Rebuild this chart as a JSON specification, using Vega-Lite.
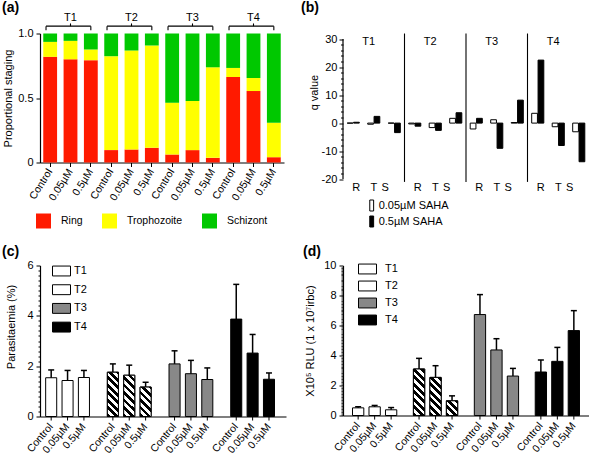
{
"$schema": "https://vega.github.io/schema/vega-lite/v6.json",
"padding": {"left": 2, "top": 0.5, "right": 0, "bottom": 0},
"config": {
 "font": "Liberation Sans",
 "view": {"stroke": null},
 "axis": {"domainColor": "#000", "tickColor": "#000", "labelColor": "#000", "titleColor": "#000", "labelFontSize": 11, "titleFontSize": 11, "titleFontWeight": "normal", "grid": false, "labelOverlap": false, "domainWidth": 1.2, "tickWidth": 1},
 "legend": {"labelColor": "#000", "labelFontSize": 11, "padding": 0},
 "title": {"fontSize": 14, "fontWeight": "bold", "color": "#000", "anchor": "start", "frame": "group"}
},
"bounds": "flush",
"columns": 2,
"spacing": {"row": 86, "column": 57},
"resolve": {"scale": {"fill": "independent", "color": "independent", "xOffset": "independent"}, "legend": {"fill": "independent", "color": "independent"}},
"concat": [
  {
   "width": 244, "height": 129,
   "title": {"text": "(a)", "dx": -38, "offset": -3.5},
   "layer": [
    {
     "data": {"values": [
      {"key": "T1|Control", "stage": "Ring", "frac": 0.819, "ord": 1},
      {"key": "T1|Control", "stage": "Trophozoite", "frac": 0.116, "ord": 2},
      {"key": "T1|Control", "stage": "Schizont", "frac": 0.065, "ord": 3},
      {"key": "T1|0.05µM", "stage": "Ring", "frac": 0.8, "ord": 1},
      {"key": "T1|0.05µM", "stage": "Trophozoite", "frac": 0.143, "ord": 2},
      {"key": "T1|0.05µM", "stage": "Schizont", "frac": 0.057, "ord": 3},
      {"key": "T1|0.5µM", "stage": "Ring", "frac": 0.793, "ord": 1},
      {"key": "T1|0.5µM", "stage": "Trophozoite", "frac": 0.083, "ord": 2},
      {"key": "T1|0.5µM", "stage": "Schizont", "frac": 0.124, "ord": 3},
      {"key": "T2|Control", "stage": "Ring", "frac": 0.096, "ord": 1},
      {"key": "T2|Control", "stage": "Trophozoite", "frac": 0.728, "ord": 2},
      {"key": "T2|Control", "stage": "Schizont", "frac": 0.176, "ord": 3},
      {"key": "T2|0.05µM", "stage": "Ring", "frac": 0.101, "ord": 1},
      {"key": "T2|0.05µM", "stage": "Trophozoite", "frac": 0.767, "ord": 2},
      {"key": "T2|0.05µM", "stage": "Schizont", "frac": 0.132, "ord": 3},
      {"key": "T2|0.5µM", "stage": "Ring", "frac": 0.114, "ord": 1},
      {"key": "T2|0.5µM", "stage": "Trophozoite", "frac": 0.793, "ord": 2},
      {"key": "T2|0.5µM", "stage": "Schizont", "frac": 0.093, "ord": 3},
      {"key": "T3|Control", "stage": "Ring", "frac": 0.062, "ord": 1},
      {"key": "T3|Control", "stage": "Trophozoite", "frac": 0.402, "ord": 2},
      {"key": "T3|Control", "stage": "Schizont", "frac": 0.536, "ord": 3},
      {"key": "T3|0.05µM", "stage": "Ring", "frac": 0.096, "ord": 1},
      {"key": "T3|0.05µM", "stage": "Trophozoite", "frac": 0.381, "ord": 2},
      {"key": "T3|0.05µM", "stage": "Schizont", "frac": 0.523, "ord": 3},
      {"key": "T3|0.5µM", "stage": "Ring", "frac": 0.036, "ord": 1},
      {"key": "T3|0.5µM", "stage": "Trophozoite", "frac": 0.702, "ord": 2},
      {"key": "T3|0.5µM", "stage": "Schizont", "frac": 0.262, "ord": 3},
      {"key": "T4|Control", "stage": "Ring", "frac": 0.663, "ord": 1},
      {"key": "T4|Control", "stage": "Trophozoite", "frac": 0.07, "ord": 2},
      {"key": "T4|Control", "stage": "Schizont", "frac": 0.267, "ord": 3},
      {"key": "T4|0.05µM", "stage": "Ring", "frac": 0.554, "ord": 1},
      {"key": "T4|0.05µM", "stage": "Trophozoite", "frac": 0.101, "ord": 2},
      {"key": "T4|0.05µM", "stage": "Schizont", "frac": 0.345, "ord": 3},
      {"key": "T4|0.5µM", "stage": "Ring", "frac": 0.041, "ord": 1},
      {"key": "T4|0.5µM", "stage": "Trophozoite", "frac": 0.267, "ord": 2},
      {"key": "T4|0.5µM", "stage": "Schizont", "frac": 0.692, "ord": 3}
     ]},
     "mark": {"type": "bar"},
     "encoding": {
      "x": {"field": "key", "type": "nominal", "sort": null,
        "scale": {"domain": ["T1|Control","T1|0.05µM","T1|0.5µM","T2|Control","T2|0.05µM","T2|0.5µM","T3|Control","T3|0.05µM","T3|0.5µM","T4|Control","T4|0.05µM","T4|0.5µM"], "paddingInner": 0.32, "paddingOuter": 0.16},
        "axis": {"title": null, "labelExpr": "split(datum.label, '|')[1]", "labelAngle": -58, "labelAlign": "right", "labelBaseline": "middle", "labelFontSize": 10.5, "tickSize": 4, "labelPadding": 3}},
      "y": {"field": "frac", "type": "quantitative", "stack": "zero",
        "scale": {"domain": [0, 1], "nice": false},
        "axis": {"values": [0, 0.5, 1], "labelExpr": "datum.value === 0 ? '0' : format(datum.value, '.1f')", "tickSize": 4, "labelPadding": 3, "title": "Proportional staging", "titlePadding": 4}},
      "color": {"field": "stage", "type": "nominal",
        "scale": {"domain": ["Ring", "Trophozoite", "Schizont"], "range": ["#ff1a00", "#ffff00", "#00c800"]},
        "legend": {"orient": "none", "legendX": -4, "legendY": 180, "direction": "horizontal", "title": null, "symbolType": "square", "symbolSize": 225, "symbolStrokeWidth": 0, "symbolOpacity": 1, "labelFontSize": 10.5, "labelOffset": 10, "columnPadding": 19}},
      "order": {"field": "ord", "type": "quantitative"}
     }
    },
    {
     "data": {"values": [
      {"T": "T1", "first": "T1|Control", "mid": "T1|0.05µM", "last": "T1|0.5µM"},
      {"T": "T2", "first": "T2|Control", "mid": "T2|0.05µM", "last": "T2|0.5µM"},
      {"T": "T3", "first": "T3|Control", "mid": "T3|0.05µM", "last": "T3|0.5µM"},
      {"T": "T4", "first": "T4|Control", "mid": "T4|0.05µM", "last": "T4|0.5µM"}
     ]},
     "layer": [
      {"mark": {"type": "rule", "strokeWidth": 1.1, "color": "#000"},
       "encoding": {"x": {"field": "first", "type": "nominal", "bandPosition": 0.2}, "x2": {"field": "last"}, "y": {"datum": 1.057}}},
      {"mark": {"type": "rule", "strokeWidth": 1.1, "color": "#000"},
       "encoding": {"x": {"field": "first", "type": "nominal", "bandPosition": 0.2}, "y": {"datum": 1.026}, "y2": {"datum": 1.057}}},
      {"mark": {"type": "rule", "strokeWidth": 1.1, "color": "#000"},
       "encoding": {"x": {"field": "last", "type": "nominal"}, "y": {"datum": 1.026}, "y2": {"datum": 1.057}}},
      {"mark": {"type": "rule", "strokeWidth": 1.1, "color": "#000"},
       "encoding": {"x": {"field": "mid", "type": "nominal"}, "y": {"datum": 1.057}, "y2": {"datum": 1.078}}},
      {"mark": {"type": "text", "fontSize": 11, "baseline": "alphabetic", "color": "#000"},
       "encoding": {"x": {"field": "mid", "type": "nominal"}, "y": {"datum": 1.098}, "text": {"field": "T"}}}
     ]
    }
   ]
  },
  {
   "width": 246, "height": 145.6,
   "title": {"text": "(b)", "dx": -42, "offset": 13},
   "layer": [
    {"mark": {"type": "rule", "strokeWidth": 1.2, "strokeDash": [4, 2.5], "color": "#000"}, "encoding": {"y": {"datum": 2.26}}},
    {"mark": {"type": "rule", "strokeWidth": 1.2, "strokeDash": [4, 2.5], "color": "#000"}, "encoding": {"y": {"datum": -2.26}}},
    {"mark": {"type": "rule", "strokeWidth": 1.6, "color": "#000"}, "encoding": {"y": {"datum": 0}}},
    {
     "data": {"values": [
      {"k": "T1|R", "trt": "0.05µM SAHA", "q": 0}, {"k": "T1|R", "trt": "0.5µM SAHA", "q": 0.3},
      {"k": "T1|T", "trt": "0.05µM SAHA", "q": -0.4}, {"k": "T1|T", "trt": "0.5µM SAHA", "q": 2.4},
      {"k": "T1|S", "trt": "0.05µM SAHA", "q": 0}, {"k": "T1|S", "trt": "0.5µM SAHA", "q": -3.4},
      {"k": "T2|R", "trt": "0.05µM SAHA", "q": -0.3}, {"k": "T2|R", "trt": "0.5µM SAHA", "q": -1.1},
      {"k": "T2|T", "trt": "0.05µM SAHA", "q": -1.6}, {"k": "T2|T", "trt": "0.5µM SAHA", "q": -2.6},
      {"k": "T2|S", "trt": "0.05µM SAHA", "q": 1.7}, {"k": "T2|S", "trt": "0.5µM SAHA", "q": 3.7},
      {"k": "T3|R", "trt": "0.05µM SAHA", "q": -2.1}, {"k": "T3|R", "trt": "0.5µM SAHA", "q": 1.7},
      {"k": "T3|T", "trt": "0.05µM SAHA", "q": 1.2}, {"k": "T3|T", "trt": "0.5µM SAHA", "q": -9.0},
      {"k": "T3|S", "trt": "0.05µM SAHA", "q": 0.2}, {"k": "T3|S", "trt": "0.5µM SAHA", "q": 8.2},
      {"k": "T4|R", "trt": "0.05µM SAHA", "q": 3.5}, {"k": "T4|R", "trt": "0.5µM SAHA", "q": 22.5},
      {"k": "T4|T", "trt": "0.05µM SAHA", "q": -1.3}, {"k": "T4|T", "trt": "0.5µM SAHA", "q": -8.0},
      {"k": "T4|S", "trt": "0.05µM SAHA", "q": -3.1}, {"k": "T4|S", "trt": "0.5µM SAHA", "q": -13.8}
     ]},
     "mark": {"type": "bar", "stroke": "#000", "strokeWidth": 1},
     "encoding": {
      "x": {"field": "k", "type": "nominal", "sort": null,
        "scale": {"domain": ["T1|R","T1|T","T1|S","T2|R","T2|T","T2|S","T3|R","T3|T","T3|S","T4|R","T4|T","T4|S"], "paddingInner": 0.41, "paddingOuter": 0.205},
        "axis": null},
      "xOffset": {"field": "trt", "type": "nominal", "scale": {"domain": ["0.05µM SAHA", "0.5µM SAHA"], "paddingInner": 0.1, "paddingOuter": 0}},
      "y": {"field": "q", "type": "quantitative",
        "scale": {"domain": [-20, 32], "nice": false},
        "axis": {"tickCount": 26, "domain": false,
          "labelExpr": "abs(datum.value - 10*round(datum.value/10)) < 0.001 && datum.value < 31 ? '' + round(datum.value) : ''",
          "tickSize": {"condition": {"test": "abs(datum.value - 10*round(datum.value/10)) < 0.001", "value": 4}, "value": 2.5},
          "tickOpacity": {"condition": {"test": "datum.value > 31", "value": 0}, "value": 1},
          "labelPadding": 2, "title": "q value", "titlePadding": 2, "titleY": 58.6}},
      "fill": {"field": "trt", "type": "nominal",
        "scale": {"domain": ["0.05µM SAHA", "0.5µM SAHA"], "range": ["#fff", "#000"]},
        "legend": {"orient": "none", "legendX": 22.7, "legendY": 166, "title": null, "symbolType": "M-0.35,-1H0.35V1H-0.35Z", "symbolSize": 121, "symbolStrokeColor": "#000", "symbolStrokeWidth": 1, "labelFontSize": 11, "labelOffset": 1, "rowPadding": 0}}
     }
    },
    {
     "data": {"values": [{"k": "T1|R"}]},
     "mark": {"type": "rule", "strokeWidth": 1.2, "color": "#000"},
     "encoding": {"x": {"field": "k", "type": "nominal", "bandPosition": -0.3475}, "y": {"datum": 30}, "y2": {"datum": -20}}
    },
    {
     "data": {"values": [{"k": "T2|R"}, {"k": "T3|R"}, {"k": "T4|R"}]},
     "mark": {"type": "rule", "strokeWidth": 1.1, "color": "#000"},
     "encoding": {"x": {"field": "k", "type": "nominal", "bandPosition": -0.3475}, "y": {"datum": 32}, "y2": {"datum": -21}}
    },
    {
     "data": {"values": [{"k": "T1|T", "lab": "T1"}, {"k": "T2|T", "lab": "T2"}, {"k": "T3|T", "lab": "T3"}, {"k": "T4|T", "lab": "T4"}]},
     "mark": {"type": "text", "fontSize": 11, "baseline": "middle", "dx": -5, "color": "#000"},
     "encoding": {"x": {"field": "k", "type": "nominal"}, "y": {"datum": 28.8}, "text": {"field": "lab"}}
    },
    {
     "data": {"values": [
      {"k": "T1|R", "c": "R"}, {"k": "T1|T", "c": "T"}, {"k": "T1|S", "c": "S"},
      {"k": "T2|R", "c": "R"}, {"k": "T2|T", "c": "T"}, {"k": "T2|S", "c": "S"},
      {"k": "T3|R", "c": "R"}, {"k": "T3|T", "c": "T"}, {"k": "T3|S", "c": "S"},
      {"k": "T4|R", "c": "R"}, {"k": "T4|T", "c": "T"}, {"k": "T4|S", "c": "S"}
     ]},
     "layer": [
      {"transform": [{"filter": "datum.c === 'R'"}], "mark": {"type": "text", "fontSize": 11, "baseline": "middle", "dx": 3, "color": "#000"}, "encoding": {"x": {"field": "k", "type": "nominal"}, "y": {"datum": -23}, "text": {"field": "c"}}},
      {"transform": [{"filter": "datum.c === 'T'"}], "mark": {"type": "text", "fontSize": 11, "baseline": "middle", "dx": 0, "color": "#000"}, "encoding": {"x": {"field": "k", "type": "nominal"}, "y": {"datum": -23}, "text": {"field": "c"}}},
      {"transform": [{"filter": "datum.c === 'S'"}], "mark": {"type": "text", "fontSize": 11, "baseline": "middle", "dx": -9, "color": "#000"}, "encoding": {"x": {"field": "k", "type": "nominal"}, "y": {"datum": -23}, "text": {"field": "c"}}}
     ]
    }
   ]
  },
  {
   "width": 246, "height": 151,
   "title": {"text": "(c)", "dx": -38, "offset": 1},
   "data": {"values": [
    {"T": "T1", "trt": "Control", "m": 1.54, "u": 1.85},
    {"T": "T1", "trt": "0.05µM", "m": 1.43, "u": 1.83},
    {"T": "T1", "trt": "0.5µM", "m": 1.55, "u": 1.83},
    {"T": "T2", "trt": "Control", "m": 1.76, "u": 2.09},
    {"T": "T2", "trt": "0.05µM", "m": 1.64, "u": 2.04},
    {"T": "T2", "trt": "0.5µM", "m": 1.17, "u": 1.36},
    {"T": "T3", "trt": "Control", "m": 2.09, "u": 2.61},
    {"T": "T3", "trt": "0.05µM", "m": 1.7, "u": 2.23},
    {"T": "T3", "trt": "0.5µM", "m": 1.47, "u": 1.93},
    {"T": "T4", "trt": "Control", "m": 3.87, "u": 5.25},
    {"T": "T4", "trt": "0.05µM", "m": 2.52, "u": 3.26},
    {"T": "T4", "trt": "0.5µM", "m": 1.48, "u": 1.73}
   ]},
   "layer": [
    {
     "mark": {"type": "bar", "stroke": "#000", "strokeWidth": 1},
     "encoding": {
      "x": {"field": "T", "type": "nominal", "scale": {"domain": ["T1", "T2", "T3", "T4"], "paddingInner": 0.29, "paddingOuter": 0.139, "align": 0.33}, "axis": {"title": null, "labels": false, "ticks": false}},
      "xOffset": {"field": "trt", "type": "nominal", "scale": {"domain": ["Control", "0.05µM", "0.5µM"], "paddingInner": 0.325, "paddingOuter": 0}},
      "y": {"field": "m", "type": "quantitative", "scale": {"domain": [0, 6], "nice": false},
        "axis": {"tickCount": 30, "labelExpr": "abs(datum.value - 2*round(datum.value/2)) < 0.001 ? '' + round(datum.value) : ''",
          "tickSize": {"condition": {"test": "abs(datum.value - 2*round(datum.value/2)) < 0.001", "value": 4}, "value": 2},
          "labelPadding": 3, "title": "Parasitaemia (%)", "titlePadding": 10, "titleY": 61}},
      "fill": {"field": "T", "type": "nominal", "scale": {"domain": ["T1", "T2", "T3", "T4"], "range": ["#fff", "#fff", "#888", "#000"]},
        "legend": {"orient": "none", "legendX": 12, "legendY": -4, "title": null, "symbolType": "M-1,-0.55H1V0.55H-1Z", "symbolSize": 324, "symbolStrokeColor": "#000", "symbolStrokeWidth": 1, "labelFontSize": 11, "labelOffset": 3, "rowPadding": 1.7}}
     }
    },
    {
     "transform": [{"filter": "datum.T === 'T2' && datum.trt === 'Control'"}],
     "mark": {"type": "bar", "stroke": "#000", "strokeWidth": 1, "fill": {"gradient": "linear", "x1": 0, "y1": 1, "x2": 0.396, "y2": -0.595, "stops": [{"offset":0,"color":"#000"},{"offset":0.05,"color":"#000"},{"offset":0.05,"color":"#fff"},{"offset":0.1,"color":"#fff"},{"offset":0.1,"color":"#000"},{"offset":0.15,"color":"#000"},{"offset":0.15,"color":"#fff"},{"offset":0.2,"color":"#fff"},{"offset":0.2,"color":"#000"},{"offset":0.25,"color":"#000"},{"offset":0.25,"color":"#fff"},{"offset":0.3,"color":"#fff"},{"offset":0.3,"color":"#000"},{"offset":0.35,"color":"#000"},{"offset":0.35,"color":"#fff"},{"offset":0.4,"color":"#fff"},{"offset":0.4,"color":"#000"},{"offset":0.45,"color":"#000"},{"offset":0.45,"color":"#fff"},{"offset":0.5,"color":"#fff"},{"offset":0.5,"color":"#000"},{"offset":0.55,"color":"#000"},{"offset":0.55,"color":"#fff"},{"offset":0.6,"color":"#fff"},{"offset":0.6,"color":"#000"},{"offset":0.65,"color":"#000"},{"offset":0.65,"color":"#fff"},{"offset":0.7,"color":"#fff"},{"offset":0.7,"color":"#000"},{"offset":0.75,"color":"#000"},{"offset":0.75,"color":"#fff"},{"offset":0.8,"color":"#fff"},{"offset":0.8,"color":"#000"},{"offset":0.85,"color":"#000"},{"offset":0.85,"color":"#fff"},{"offset":0.9,"color":"#fff"},{"offset":0.9,"color":"#000"},{"offset":0.95,"color":"#000"},{"offset":0.95,"color":"#fff"},{"offset":1,"color":"#fff"}]}},
     "encoding": {"x": {"field": "T", "type": "nominal"}, "xOffset": {"field": "trt", "type": "nominal"}, "y": {"field": "m", "type": "quantitative", "title": "Parasitaemia (%)"}}
    },
    {
     "transform": [{"filter": "datum.T === 'T2' && datum.trt === '0.05µM'"}],
     "mark": {"type": "bar", "stroke": "#000", "strokeWidth": 1, "fill": {"gradient": "linear", "x1": 0, "y1": 1, "x2": 0.452, "y2": -0.696, "stops": [{"offset":0,"color":"#000"},{"offset":0.05,"color":"#000"},{"offset":0.05,"color":"#fff"},{"offset":0.1,"color":"#fff"},{"offset":0.1,"color":"#000"},{"offset":0.15,"color":"#000"},{"offset":0.15,"color":"#fff"},{"offset":0.2,"color":"#fff"},{"offset":0.2,"color":"#000"},{"offset":0.25,"color":"#000"},{"offset":0.25,"color":"#fff"},{"offset":0.3,"color":"#fff"},{"offset":0.3,"color":"#000"},{"offset":0.35,"color":"#000"},{"offset":0.35,"color":"#fff"},{"offset":0.4,"color":"#fff"},{"offset":0.4,"color":"#000"},{"offset":0.45,"color":"#000"},{"offset":0.45,"color":"#fff"},{"offset":0.5,"color":"#fff"},{"offset":0.5,"color":"#000"},{"offset":0.55,"color":"#000"},{"offset":0.55,"color":"#fff"},{"offset":0.6,"color":"#fff"},{"offset":0.6,"color":"#000"},{"offset":0.65,"color":"#000"},{"offset":0.65,"color":"#fff"},{"offset":0.7,"color":"#fff"},{"offset":0.7,"color":"#000"},{"offset":0.75,"color":"#000"},{"offset":0.75,"color":"#fff"},{"offset":0.8,"color":"#fff"},{"offset":0.8,"color":"#000"},{"offset":0.85,"color":"#000"},{"offset":0.85,"color":"#fff"},{"offset":0.9,"color":"#fff"},{"offset":0.9,"color":"#000"},{"offset":0.95,"color":"#000"},{"offset":0.95,"color":"#fff"},{"offset":1,"color":"#fff"}]}},
     "encoding": {"x": {"field": "T", "type": "nominal"}, "xOffset": {"field": "trt", "type": "nominal"}, "y": {"field": "m", "type": "quantitative", "title": "Parasitaemia (%)"}}
    },
    {
     "transform": [{"filter": "datum.T === 'T2' && datum.trt === '0.5µM'"}],
     "mark": {"type": "bar", "stroke": "#000", "strokeWidth": 1, "fill": {"gradient": "linear", "x1": 0, "y1": 1, "x2": 0.837, "y2": -1.238, "stops": [{"offset":0,"color":"#000"},{"offset":0.05,"color":"#000"},{"offset":0.05,"color":"#fff"},{"offset":0.1,"color":"#fff"},{"offset":0.1,"color":"#000"},{"offset":0.15,"color":"#000"},{"offset":0.15,"color":"#fff"},{"offset":0.2,"color":"#fff"},{"offset":0.2,"color":"#000"},{"offset":0.25,"color":"#000"},{"offset":0.25,"color":"#fff"},{"offset":0.3,"color":"#fff"},{"offset":0.3,"color":"#000"},{"offset":0.35,"color":"#000"},{"offset":0.35,"color":"#fff"},{"offset":0.4,"color":"#fff"},{"offset":0.4,"color":"#000"},{"offset":0.45,"color":"#000"},{"offset":0.45,"color":"#fff"},{"offset":0.5,"color":"#fff"},{"offset":0.5,"color":"#000"},{"offset":0.55,"color":"#000"},{"offset":0.55,"color":"#fff"},{"offset":0.6,"color":"#fff"},{"offset":0.6,"color":"#000"},{"offset":0.65,"color":"#000"},{"offset":0.65,"color":"#fff"},{"offset":0.7,"color":"#fff"},{"offset":0.7,"color":"#000"},{"offset":0.75,"color":"#000"},{"offset":0.75,"color":"#fff"},{"offset":0.8,"color":"#fff"},{"offset":0.8,"color":"#000"},{"offset":0.85,"color":"#000"},{"offset":0.85,"color":"#fff"},{"offset":0.9,"color":"#fff"},{"offset":0.9,"color":"#000"},{"offset":0.95,"color":"#000"},{"offset":0.95,"color":"#fff"},{"offset":1,"color":"#fff"}]}},
     "encoding": {"x": {"field": "T", "type": "nominal"}, "xOffset": {"field": "trt", "type": "nominal"}, "y": {"field": "m", "type": "quantitative", "title": "Parasitaemia (%)"}}
    },
    {
     "mark": {"type": "rule", "strokeWidth": 1.5, "color": "#000"},
     "encoding": {"x": {"field": "T", "type": "nominal"}, "xOffset": {"field": "trt", "type": "nominal"}, "y": {"field": "m", "type": "quantitative", "title": "Parasitaemia (%)"}, "y2": {"field": "u"}}
    },
    {
     "mark": {"type": "tick", "orient": "horizontal", "size": 6, "thickness": 1.5, "color": "#000", "opacity": 1},
     "encoding": {"x": {"field": "T", "type": "nominal"}, "xOffset": {"field": "trt", "type": "nominal"}, "y": {"field": "u", "type": "quantitative", "title": "Parasitaemia (%)"}}
    },
    {
     "mark": {"type": "rule", "strokeWidth": 1, "color": "#000"},
     "encoding": {"x": {"field": "T", "type": "nominal"}, "xOffset": {"field": "trt", "type": "nominal"}, "y": {"datum": 0}, "y2": {"datum": -0.16}}
    },
    {
     "mark": {"type": "text", "angle": -50, "align": "right", "baseline": "middle", "fontSize": 10.5, "color": "#000"},
     "encoding": {"x": {"field": "T", "type": "nominal"}, "xOffset": {"field": "trt", "type": "nominal"}, "y": {"datum": -0.34}, "text": {"field": "trt"}}
    }
   ]
  },
  {
   "width": 246, "height": 150,
   "title": {"text": "(d)", "dx": -40, "offset": 1},
   "data": {"values": [
    {"T": "T1", "trt": "Control", "m": 0.51, "u": 0.58},
    {"T": "T1", "trt": "0.05µM", "m": 0.58, "u": 0.67},
    {"T": "T1", "trt": "0.5µM", "m": 0.38, "u": 0.53},
    {"T": "T2", "trt": "Control", "m": 3.1, "u": 3.81},
    {"T": "T2", "trt": "0.05µM", "m": 2.54, "u": 3.32},
    {"T": "T2", "trt": "0.5µM", "m": 0.98, "u": 1.31},
    {"T": "T3", "trt": "Control", "m": 6.73, "u": 8.06},
    {"T": "T3", "trt": "0.05µM", "m": 4.37, "u": 5.12},
    {"T": "T3", "trt": "0.5µM", "m": 2.63, "u": 3.14},
    {"T": "T4", "trt": "Control", "m": 2.9, "u": 3.7},
    {"T": "T4", "trt": "0.05µM", "m": 3.61, "u": 4.54},
    {"T": "T4", "trt": "0.5µM", "m": 5.66, "u": 6.99}
   ]},
   "layer": [
    {
     "mark": {"type": "bar", "stroke": "#000", "strokeWidth": 1},
     "encoding": {
      "x": {"field": "T", "type": "nominal", "scale": {"domain": ["T1", "T2", "T3", "T4"], "paddingInner": 0.273, "paddingOuter": 0.156, "align": 0.5}, "axis": {"title": null, "labels": false, "ticks": false}},
      "xOffset": {"field": "trt", "type": "nominal", "scale": {"domain": ["Control", "0.05µM", "0.5µM"], "paddingInner": 0.315, "paddingOuter": 0}},
      "y": {"field": "m", "type": "quantitative", "scale": {"domain": [0, 10], "nice": false},
        "axis": {"tickCount": 100, "labelExpr": "abs(datum.value - 2*round(datum.value/2)) < 0.001 ? '' + round(datum.value) : ''",
          "tickSize": {"condition": {"test": "abs(datum.value - 2*round(datum.value/2)) < 0.001", "value": 4}, "value": 2},
          "labelPadding": 3, "title": "X10⁵ RLU (1 x 10⁷irbc)", "titlePadding": 8}},
      "fill": {"field": "T", "type": "nominal", "scale": {"domain": ["T1", "T2", "T3", "T4"], "range": ["#fff", "#fff", "#888", "#000"]},
        "legend": {"orient": "none", "legendX": 15, "legendY": -6, "title": null, "symbolType": "M-1,-0.55H1V0.55H-1Z", "symbolSize": 324, "symbolStrokeColor": "#000", "symbolStrokeWidth": 1, "labelFontSize": 11, "labelOffset": 8, "rowPadding": -0.7}}
     }
    },
    {
     "transform": [{"filter": "datum.T === 'T2' && datum.trt === 'Control'"}],
     "mark": {"type": "bar", "stroke": "#000", "strokeWidth": 1, "fill": {"gradient": "linear", "x1": 0, "y1": 1, "x2": 0.37, "y2": -0.523, "stops": [{"offset":0,"color":"#000"},{"offset":0.05,"color":"#000"},{"offset":0.05,"color":"#fff"},{"offset":0.1,"color":"#fff"},{"offset":0.1,"color":"#000"},{"offset":0.15,"color":"#000"},{"offset":0.15,"color":"#fff"},{"offset":0.2,"color":"#fff"},{"offset":0.2,"color":"#000"},{"offset":0.25,"color":"#000"},{"offset":0.25,"color":"#fff"},{"offset":0.3,"color":"#fff"},{"offset":0.3,"color":"#000"},{"offset":0.35,"color":"#000"},{"offset":0.35,"color":"#fff"},{"offset":0.4,"color":"#fff"},{"offset":0.4,"color":"#000"},{"offset":0.45,"color":"#000"},{"offset":0.45,"color":"#fff"},{"offset":0.5,"color":"#fff"},{"offset":0.5,"color":"#000"},{"offset":0.55,"color":"#000"},{"offset":0.55,"color":"#fff"},{"offset":0.6,"color":"#fff"},{"offset":0.6,"color":"#000"},{"offset":0.65,"color":"#000"},{"offset":0.65,"color":"#fff"},{"offset":0.7,"color":"#fff"},{"offset":0.7,"color":"#000"},{"offset":0.75,"color":"#000"},{"offset":0.75,"color":"#fff"},{"offset":0.8,"color":"#fff"},{"offset":0.8,"color":"#000"},{"offset":0.85,"color":"#000"},{"offset":0.85,"color":"#fff"},{"offset":0.9,"color":"#fff"},{"offset":0.9,"color":"#000"},{"offset":0.95,"color":"#000"},{"offset":0.95,"color":"#fff"},{"offset":1,"color":"#fff"}]}},
     "encoding": {"x": {"field": "T", "type": "nominal"}, "xOffset": {"field": "trt", "type": "nominal"}, "y": {"field": "m", "type": "quantitative", "title": "X10⁵ RLU (1 x 10⁷irbc)"}}
    },
    {
     "transform": [{"filter": "datum.T === 'T2' && datum.trt === '0.05µM'"}],
     "mark": {"type": "bar", "stroke": "#000", "strokeWidth": 1, "fill": {"gradient": "linear", "x1": 0, "y1": 1, "x2": 0.537, "y2": -0.809, "stops": [{"offset":0,"color":"#000"},{"offset":0.05,"color":"#000"},{"offset":0.05,"color":"#fff"},{"offset":0.1,"color":"#fff"},{"offset":0.1,"color":"#000"},{"offset":0.15,"color":"#000"},{"offset":0.15,"color":"#fff"},{"offset":0.2,"color":"#fff"},{"offset":0.2,"color":"#000"},{"offset":0.25,"color":"#000"},{"offset":0.25,"color":"#fff"},{"offset":0.3,"color":"#fff"},{"offset":0.3,"color":"#000"},{"offset":0.35,"color":"#000"},{"offset":0.35,"color":"#fff"},{"offset":0.4,"color":"#fff"},{"offset":0.4,"color":"#000"},{"offset":0.45,"color":"#000"},{"offset":0.45,"color":"#fff"},{"offset":0.5,"color":"#fff"},{"offset":0.5,"color":"#000"},{"offset":0.55,"color":"#000"},{"offset":0.55,"color":"#fff"},{"offset":0.6,"color":"#fff"},{"offset":0.6,"color":"#000"},{"offset":0.65,"color":"#000"},{"offset":0.65,"color":"#fff"},{"offset":0.7,"color":"#fff"},{"offset":0.7,"color":"#000"},{"offset":0.75,"color":"#000"},{"offset":0.75,"color":"#fff"},{"offset":0.8,"color":"#fff"},{"offset":0.8,"color":"#000"},{"offset":0.85,"color":"#000"},{"offset":0.85,"color":"#fff"},{"offset":0.9,"color":"#fff"},{"offset":0.9,"color":"#000"},{"offset":0.95,"color":"#000"},{"offset":0.95,"color":"#fff"},{"offset":1,"color":"#fff"}]}},
     "encoding": {"x": {"field": "T", "type": "nominal"}, "xOffset": {"field": "trt", "type": "nominal"}, "y": {"field": "m", "type": "quantitative", "title": "X10⁵ RLU (1 x 10⁷irbc)"}}
    },
    {
     "transform": [{"filter": "datum.T === 'T2' && datum.trt === '0.5µM'"}],
     "mark": {"type": "bar", "stroke": "#000", "strokeWidth": 1, "fill": {"gradient": "linear", "x1": 0, "y1": 1, "x2": 2.465, "y2": -2.207, "stops": [{"offset":0,"color":"#000"},{"offset":0.05,"color":"#000"},{"offset":0.05,"color":"#fff"},{"offset":0.1,"color":"#fff"},{"offset":0.1,"color":"#000"},{"offset":0.15,"color":"#000"},{"offset":0.15,"color":"#fff"},{"offset":0.2,"color":"#fff"},{"offset":0.2,"color":"#000"},{"offset":0.25,"color":"#000"},{"offset":0.25,"color":"#fff"},{"offset":0.3,"color":"#fff"},{"offset":0.3,"color":"#000"},{"offset":0.35,"color":"#000"},{"offset":0.35,"color":"#fff"},{"offset":0.4,"color":"#fff"},{"offset":0.4,"color":"#000"},{"offset":0.45,"color":"#000"},{"offset":0.45,"color":"#fff"},{"offset":0.5,"color":"#fff"},{"offset":0.5,"color":"#000"},{"offset":0.55,"color":"#000"},{"offset":0.55,"color":"#fff"},{"offset":0.6,"color":"#fff"},{"offset":0.6,"color":"#000"},{"offset":0.65,"color":"#000"},{"offset":0.65,"color":"#fff"},{"offset":0.7,"color":"#fff"},{"offset":0.7,"color":"#000"},{"offset":0.75,"color":"#000"},{"offset":0.75,"color":"#fff"},{"offset":0.8,"color":"#fff"},{"offset":0.8,"color":"#000"},{"offset":0.85,"color":"#000"},{"offset":0.85,"color":"#fff"},{"offset":0.9,"color":"#fff"},{"offset":0.9,"color":"#000"},{"offset":0.95,"color":"#000"},{"offset":0.95,"color":"#fff"},{"offset":1,"color":"#fff"}]}},
     "encoding": {"x": {"field": "T", "type": "nominal"}, "xOffset": {"field": "trt", "type": "nominal"}, "y": {"field": "m", "type": "quantitative", "title": "X10⁵ RLU (1 x 10⁷irbc)"}}
    },
    {
     "mark": {"type": "rule", "strokeWidth": 1.5, "color": "#000"},
     "encoding": {"x": {"field": "T", "type": "nominal"}, "xOffset": {"field": "trt", "type": "nominal"}, "y": {"field": "m", "type": "quantitative", "title": "X10⁵ RLU (1 x 10⁷irbc)"}, "y2": {"field": "u"}}
    },
    {
     "mark": {"type": "tick", "orient": "horizontal", "size": 6, "thickness": 1.5, "color": "#000", "opacity": 1},
     "encoding": {"x": {"field": "T", "type": "nominal"}, "xOffset": {"field": "trt", "type": "nominal"}, "y": {"field": "u", "type": "quantitative", "title": "X10⁵ RLU (1 x 10⁷irbc)"}}
    },
    {
     "mark": {"type": "rule", "strokeWidth": 1, "color": "#000"},
     "encoding": {"x": {"field": "T", "type": "nominal"}, "xOffset": {"field": "trt", "type": "nominal"}, "y": {"datum": 0}, "y2": {"datum": -0.27}}
    },
    {
     "mark": {"type": "text", "angle": -50, "align": "right", "baseline": "middle", "fontSize": 10.5, "color": "#000"},
     "encoding": {"x": {"field": "T", "type": "nominal"}, "xOffset": {"field": "trt", "type": "nominal"}, "y": {"datum": -0.57}, "text": {"field": "trt"}}
    }
   ]
  }
]
}
